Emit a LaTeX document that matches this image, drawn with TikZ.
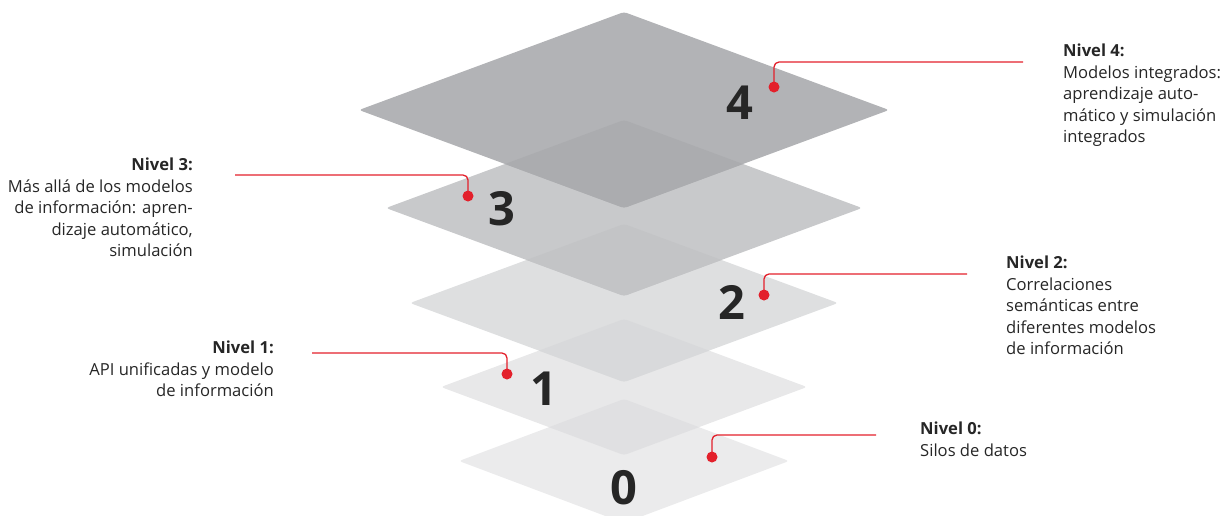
\documentclass[tikz,border=0pt]{standalone}
\usepackage{fontspec}
\setmainfont{Open Sans}
\definecolor{cA}{HTML}{B2B3B6}
\definecolor{cAB}{HTML}{ABACAF}
\definecolor{cB}{HTML}{C8C9CB}
\definecolor{cBC}{HTML}{C3C4C6}
\definecolor{cC}{HTML}{DEDFE0}
\definecolor{cCD}{HTML}{D8D9DB}
\definecolor{cD}{HTML}{E8E8E9}
\definecolor{cDE}{HTML}{E0E0E2}
\definecolor{cE}{HTML}{EBEBEC}
\definecolor{txt}{HTML}{262626}
\definecolor{abbred}{HTML}{E3202B}
\begin{document}
\begin{tikzpicture}[x=1pt,y=-1pt,
  dot/.style={circle,fill=abbred,inner sep=0pt,minimum size=11pt},
  callout/.style={draw=abbred,line width=1.3pt,rounded corners=5pt},
  digit/.style={font=\fontsize{47}{47}\selectfont\bfseries,text=txt,inner sep=0pt},
  lbl/.style={font=\fontsize{16.6}{21.5}\selectfont,text=txt,inner sep=0pt},
]
\useasboundingbox (0,0) rectangle (1231,515);
\clip (0,0) rectangle (1231,515);
\def\layer#1#2#3#4{(#1,#2-#4) -- (#1+#3,#2) -- (#1,#2+#4) -- (#1-#3,#2) -- cycle}
% layers
\fill[cE,rounded corners=3pt] \layer{624}{461}{165}{62};
\fill[cD,rounded corners=3pt] \layer{624}{387}{183}{68};
\fill[cC,rounded corners=3pt] \layer{624}{303}{214}{79};
\fill[cB,rounded corners=3pt] \layer{624}{208}{238}{88};
\fill[cA,rounded corners=3pt] \layer{624}{110}{265}{98};
% overlaps
\begin{scope}
  \clip[rounded corners=3pt] \layer{624}{461}{165}{62};
  \fill[cDE,rounded corners=3pt] \layer{624}{387}{183}{68};
\end{scope}
\begin{scope}
  \clip[rounded corners=3pt] \layer{624}{387}{183}{68};
  \fill[cCD,rounded corners=3pt] \layer{624}{303}{214}{79};
\end{scope}
\begin{scope}
  \clip[rounded corners=3pt] \layer{624}{303}{214}{79};
  \fill[cBC,rounded corners=3pt] \layer{624}{208}{238}{88};
\end{scope}
\begin{scope}
  \clip[rounded corners=3pt] \layer{624}{208}{238}{88};
  \fill[cAB,rounded corners=3pt] \layer{624}{110}{265}{98};
\end{scope}
% digits
\node[digit] (n4) at (740,103) {4};
\node[digit] (n3) at (502,209) {3};
\node[digit] (n2) at (732,302) {2};
\node[digit] (n1) at (544,389) {1};
\node[digit] (n0) at (624,488) {0};
% callouts
\node[dot] (d4) at (774,87) {};
\node[dot] (d3) at (468,196) {};
\node[dot] (d2) at (764,295) {};
\node[dot] (d1) at (507,374) {};
\node[dot] (d0) at (712,457) {};
\coordinate (e4) at (1023,62);
\coordinate (e3) at (235,175);
\coordinate (e2) at (967,274);
\coordinate (e1) at (312,353);
\coordinate (e0) at (876,435);
\draw[callout] (d4.center) |- (e4);
\draw[callout] (d3.center) |- (e3);
\draw[callout] (d2.center) |- (e2);
\draw[callout] (d1.center) |- (e1);
\draw[callout] (d0.center) |- (e0);
% labels
\node[lbl,anchor=north west,align=left] (t4) at (1063,44) {\textbf{Nivel 4:}\\Modelos integrados:\\aprendizaje auto-\\mático y simulación\\integrados};
\node[lbl,anchor=north east,align=right] (t3) at (193,158) {\textbf{Nivel 3:}\\Más allá de los modelos\\de información: apren-\\dizaje automático,\\simulación};
\node[lbl,anchor=north west,align=left] (t2) at (1006,256) {\textbf{Nivel 2:}\\Correlaciones\\semánticas entre\\diferentes modelos\\de información};
\node[lbl,anchor=north east,align=right] (t1) at (274,341) {\textbf{Nivel 1:}\\API unificadas y modelo\\de información};
\node[lbl,anchor=north west,align=left] (t0) at (920,422) {\textbf{Nivel 0:}\\Silos de datos};
\end{tikzpicture}
\end{document}
